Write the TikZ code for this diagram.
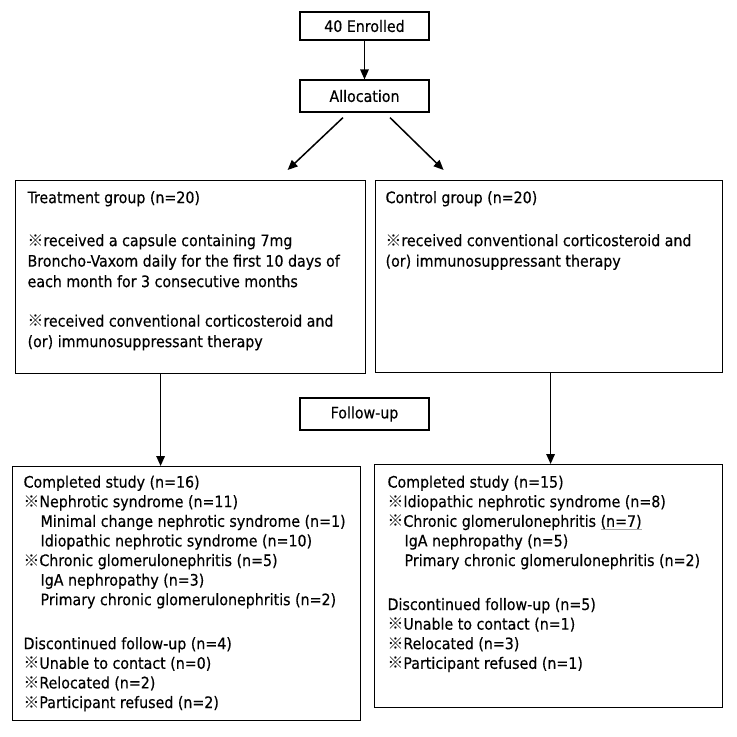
\documentclass[tikz,border=0pt]{standalone}
\usepackage{fontspec}
\setmainfont[FakeBold=0.4]{DejaVu Sans Condensed}
\newfontfamily\cjk{Noto Sans CJK SC}
\usetikzlibrary{arrows.meta, positioning}
\newcommand{\refmark}{{\cjk ※}}
\newcommand{\ind}{\hspace*{17pt}}
\newcommand{\softul}[1]{\setbox0\hbox{#1}\rlap{\color{black!35}\rule[-3pt]{\wd0}{0.8pt}}#1}
\tikzset{
  every picture/.style={line width=1.2pt},
  box/.style={draw=black, inner sep=0pt, anchor=north west},
  stagebox/.style={draw=black, minimum width=129pt, minimum height=30pt, inner sep=0pt,
    font=\fontsize{15.8}{18}\selectfont},
  body/.style={anchor=north west, align=left, inner sep=0pt, font=\fontsize{15.8}{20.5}\selectfont},
  list/.style={body, font=\fontsize{15.8}{19.6}\selectfont},
  arrow/.style={-{Triangle[length=10pt, width=8.5pt]}, line width=1.5pt},
}
\begin{document}
\begin{tikzpicture}[x=1pt, y=-1pt]
  \useasboundingbox (0,0) rectangle (737,737);
  % enrolment and allocation
  \node[stagebox, minimum height=28pt] (enrol) at (364.5,26) {40 Enrolled};
  \node[stagebox, minimum height=32pt] (alloc) at (364.5,96) {Allocation};
  \draw[arrow] (enrol.south) -- (alloc.north);
  % the two groups
  \node[box, minimum width=350pt, minimum height=193pt] (treat) at (15,180) {};
  \node[body] (treattxt) at (27,190.5) {Treatment group (n=20)\\[22.5pt]
    \refmark received a capsule containing 7mg\\
    Broncho-Vaxom daily for the first 10 days of\\
    each month for 3 consecutive months\\[19pt]
    \refmark received conventional corticosteroid and\\
    (or) immunosuppressant therapy};
  \node[box, minimum width=347pt, minimum height=192pt] (ctrl) at (375,180) {};
  \node[body] (ctrltxt) at (385,190.5) {Control group (n=20)\\[22.5pt]
    \refmark received conventional corticosteroid and\\
    (or) immunosuppressant therapy};
  \draw[arrow] ([shift={(-21.5,5)}]alloc.south) -- ([shift={(97,-10)}]treat.north);
  \draw[arrow] ([shift={(25.5,5)}]alloc.south) -- ([shift={(-105.5,-10)}]ctrl.north);
  % follow-up
  \node[stagebox, minimum height=32pt] (follow) at (364.5,414) {Follow-up};
  \node[box, minimum width=348pt, minimum height=254pt] (done) at (12,466) {};
  \node[list] (donetxt) at (23,475) {Completed study (n=16)\\
    \refmark Nephrotic syndrome (n=11)\\
    \ind Minimal change nephrotic syndrome (n=1)\\
    \ind Idiopathic nephrotic syndrome (n=10)\\
    \refmark Chronic glomerulonephritis (n=5)\\
    \ind IgA nephropathy (n=3)\\
    \ind Primary chronic glomerulonephritis (n=2)\\[24.4pt]
    Discontinued follow-up (n=4)\\
    \refmark Unable to contact (n=0)\\
    \refmark Relocated (n=2)\\
    \refmark Participant refused (n=2)};
  \node[box, minimum width=348pt, minimum height=243pt] (done2) at (374,464) {};
  \node[list] (done2txt) at (387,475) {Completed study (n=15)\\
    \refmark Idiopathic nephrotic syndrome (n=8)\\
    \refmark Chronic glomerulonephritis \softul{(n=7)}\\
    \ind IgA nephropathy (n=5)\\
    \ind Primary chronic glomerulonephritis (n=2)\\[24.4pt]
    Discontinued follow-up (n=5)\\
    \refmark Unable to contact (n=1)\\
    \refmark Relocated (n=3)\\
    \refmark Participant refused (n=1)};
  \draw[arrow] ([xshift=-30pt]treat.south) -- ([xshift=-30pt]treat.south |- done.north);
  \draw[arrow] ([xshift=1.5pt]ctrl.south) -- ([xshift=1.5pt]ctrl.south |- done2.north);
\end{tikzpicture}
\end{document}
